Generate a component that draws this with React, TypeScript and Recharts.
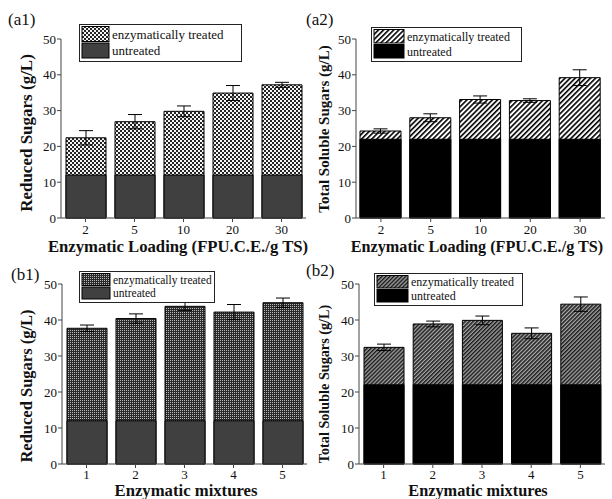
import React from 'react';
import { BarChart, Bar, XAxis, YAxis, ErrorBar } from 'recharts';

const loadings = ['2', '5', '10', '20', '30'];
const mixtures = ['1', '2', '3', '4', '5'];
const yTicks = [0, 10, 20, 30, 40, 50];

// reduced sugars, enzymatic loading (a1)
const rsLoadUntreated = [12, 12, 12, 12, 12];
const rsLoadTotal = [22.4, 26.9, 29.8, 34.9, 37.2];
const rsLoadErr = [2.0, 2.0, 1.5, 2.1, 0.7];
// total soluble sugars, enzymatic loading (a2)
const tssLoadUntreated = [22, 22, 22, 22, 22];
const tssLoadTotal = [24.3, 28.0, 33.1, 32.8, 39.2];
const tssLoadErr = [0.6, 1.1, 1.0, 0.5, 2.2];
// reduced sugars, enzymatic mixtures (b1)
const rsMixUntreated = [12, 12, 12, 12, 12];
const rsMixTotal = [37.7, 40.4, 43.8, 42.2, 44.8];
const rsMixErr = [0.9, 1.3, 1.2, 2.1, 1.3];
// total soluble sugars, enzymatic mixtures (b2)
const tssMixUntreated = [22, 22, 22, 22, 22];
const tssMixTotal = [32.4, 38.9, 39.9, 36.3, 44.4];
const tssMixErr = [0.9, 0.8, 1.2, 1.5, 2.0];

const FONT = 'Liberation Serif, Times New Roman, serif';
const AXIS = '#444';

const build = (cats: string[], base: number[], total: number[], err: number[]) =>
  cats.map((c, i) => ({ cat: c, untreated: base[i], total: total[i], err: err[i] }));

const Patterns = () => (
  <svg width={0} height={0} style={{ position: 'absolute' }}>
    <defs>
      <pattern id="dotsA" patternUnits="userSpaceOnUse" width={4} height={4}>
        <rect width={4} height={4} fill="#262626" />
        <rect x={0} y={0} width={2} height={2} fill="#f4f4f4" />
        <rect x={2} y={2} width={2} height={2} fill="#f4f4f4" />
      </pattern>
      <pattern id="dotsB" patternUnits="userSpaceOnUse" width={2} height={2}>
        <rect width={2} height={2} fill="#2a2a2a" />
        <rect width={1} height={1} fill="#bbb" />
      </pattern>
      <pattern id="hatchA" patternUnits="userSpaceOnUse" width={3.6} height={3.6} patternTransform="rotate(45)">
        <rect width={3.6} height={3.6} fill="#fff" />
        <rect width={1.6} height={3.6} fill="#000" />
      </pattern>
      <pattern id="hatchB" patternUnits="userSpaceOnUse" width={2.8} height={2.8} patternTransform="rotate(45)">
        <rect width={2.8} height={2.8} fill="#aaa" />
        <rect width={1.5} height={2.8} fill="#1a1a1a" />
      </pattern>
    </defs>
  </svg>
);

interface PanelProps {
  left: number;
  top: number;
  width: number;
  height: number;
  margin: { top: number; right: number; left: number; bottom: number };
  yWidth: number;
  xHeight: number;
  tickGap: number;
  data: any[];
  pattern: string;
  baseFill: string;
  barSize: number;
}

const Panel = ({ left, top, width, height, margin, yWidth, xHeight, tickGap, data, pattern, baseFill, barSize }: PanelProps) => (
  <div style={{ position: 'absolute', left, top }}>
    <BarChart width={width} height={height} data={data} margin={margin} barSize={barSize} barGap={-barSize}>
      <XAxis
        dataKey="cat"
        height={xHeight}
        tickSize={4}
        tickMargin={tickGap}
        axisLine={{ stroke: AXIS }}
        tickLine={{ stroke: AXIS }}
        tick={{ fill: '#111', fontSize: 13, fontFamily: FONT }}
        interval={0}
      />
      <XAxis xAxisId="top" orientation="top" dataKey="cat" height={0} mirror tick={false} tickSize={3}
        axisLine={{ stroke: AXIS }} tickLine={{ stroke: AXIS }} />
      <YAxis
        type="number"
        domain={[0, 50]}
        ticks={yTicks}
        width={yWidth}
        tickSize={4}
        tickMargin={1}
        axisLine={{ stroke: AXIS }}
        tickLine={{ stroke: AXIS }}
        tick={{ fill: '#111', fontSize: 13, fontFamily: FONT }}
        interval={0}
      />
      <YAxis yAxisId="r" orientation="right" type="number" domain={[0, 50]} ticks={yTicks} width={0} mirror
        tick={false} tickSize={3} axisLine={{ stroke: AXIS }} tickLine={{ stroke: AXIS }} />
      <Bar dataKey="total" fill={`url(#${pattern})`} stroke="#000" strokeWidth={1} isAnimationActive={false}>
        <ErrorBar dataKey="err" width={7} stroke="#000" strokeWidth={1} />
      </Bar>
      <Bar dataKey="untreated" fill={baseFill} stroke="#000" strokeWidth={1} isAnimationActive={false} />
    </BarChart>
  </div>
);

interface LegendProps {
  x: number;
  y: number;
  w: number;
  h: number;
  sw: number;
  fs: number;
  pattern: string;
  baseFill: string;
}

const LegendBox = ({ x, y, w, h, sw, fs, pattern, baseFill }: LegendProps) => {
  const rowH = (h - 4) / 2;
  return (
    <g>
      <rect x={x + 0.5} y={y + 0.5} width={w} height={h} fill="#fff" stroke="#222" strokeWidth={1} />
      <rect x={x + 3} y={y + 2.5} width={sw} height={rowH - 1.5} fill={`url(#${pattern})`} stroke="#000" />
      <rect x={x + 3} y={y + 2.5 + rowH} width={sw} height={rowH - 1.5} fill={baseFill} stroke="#000" />
      <text x={x + sw + 6} y={y + 2 + rowH / 2 + fs * 0.34} fontSize={fs} fontFamily={FONT} fill="#111">
        enzymatically treated
      </text>
      <text x={x + sw + 6} y={y + 2 + rowH * 1.5 + fs * 0.34} fontSize={fs} fontFamily={FONT} fill="#111">
        untreated
      </text>
    </g>
  );
};

const T = (props: any) => <text fontFamily={FONT} fill="#111" {...props} />;

export default function App() {
  return (
    <div style={{ position: 'absolute', left: 0, top: 0, width: 612, height: 499, background: '#fff', overflow: 'hidden', fontFamily: FONT }}>
      <Patterns />
      <Panel left={0} top={0} width={312} height={250} margin={{ top: 39, right: 6, left: 0, bottom: 0 }}
        yWidth={61} xHeight={32} tickGap={3} data={build(loadings, rsLoadUntreated, rsLoadTotal, rsLoadErr)}
        pattern="dotsA" baseFill="#404040" barSize={40} />
      <Panel left={306} top={0} width={306} height={250} margin={{ top: 39, right: 7, left: 0, bottom: 0 }}
        yWidth={50} xHeight={32} tickGap={3} data={build(loadings, tssLoadUntreated, tssLoadTotal, tssLoadErr)}
        pattern="hatchA" baseFill="#000" barSize={41} />
      <Panel left={0} top={250} width={312} height={249} margin={{ top: 34, right: 5, left: 0, bottom: 0 }}
        yWidth={62} xHeight={35} tickGap={2} data={build(mixtures, rsMixUntreated, rsMixTotal, rsMixErr)}
        pattern="dotsB" baseFill="#404040" barSize={40} />
      <Panel left={306} top={250} width={306} height={249} margin={{ top: 34, right: 7, left: 0, bottom: 0 }}
        yWidth={53} xHeight={35} tickGap={2} data={build(mixtures, tssMixUntreated, tssMixTotal, tssMixErr)}
        pattern="hatchB" baseFill="#000" barSize={40} />
      <svg width={612} height={499} style={{ position: 'absolute', left: 0, top: 0, pointerEvents: 'none' }}>
        <T x={8} y={25} fontSize={17}>(a1)</T>
        <T x={306} y={25} fontSize={17}>(a2)</T>
        <T x={11} y={280} fontSize={17}>(b1)</T>
        <T x={306} y={276} fontSize={17}>(b2)</T>

        <T x={32} y={133} fontSize={17} fontWeight="bold" textAnchor="middle" transform="rotate(-90 32 133)">Reduced Sugars (g/L)</T>
        <T x={329} y={129} fontSize={15} fontWeight="bold" textAnchor="middle" transform="rotate(-90 329 129)">Total Soluble Sugars (g/L)</T>
        <T x={32} y={386} fontSize={16.5} fontWeight="bold" textAnchor="middle" transform="rotate(-90 32 386)">Reduced Sugars (g/L)</T>
        <T x={329} y={384} fontSize={14.2} fontWeight="bold" textAnchor="middle" transform="rotate(-90 329 384)">Total Soluble Sugars (g/L)</T>

        <T x={178} y={252} fontSize={16.7} fontWeight="bold" textAnchor="middle">Enzymatic Loading (FPU.C.E./g TS)</T>
        <T x={477} y={252} fontSize={16.2} fontWeight="bold" textAnchor="middle">Enzymatic Loading (FPU.C.E./g TS)</T>
        <T x={186} y={496} fontSize={16.7} fontWeight="bold" textAnchor="middle">Enzymatic mixtures</T>
        <T x={478} y={496} fontSize={16.3} fontWeight="bold" textAnchor="middle">Enzymatic mixtures</T>

        <LegendBox x={79} y={24} w={162} h={37} sw={27} fs={13} pattern="dotsA" baseFill="#404040" />
        <LegendBox x={371} y={27} w={150} h={34} sw={30} fs={12} pattern="hatchA" baseFill="#000" />
        <LegendBox x={79} y={271} w={135} h={31} sw={28} fs={11.5} pattern="dotsB" baseFill="#404040" />
        <LegendBox x={374} y={273} w={148} h={32} sw={31} fs={12} pattern="hatchB" baseFill="#000" />
      </svg>
    </div>
  );
}
